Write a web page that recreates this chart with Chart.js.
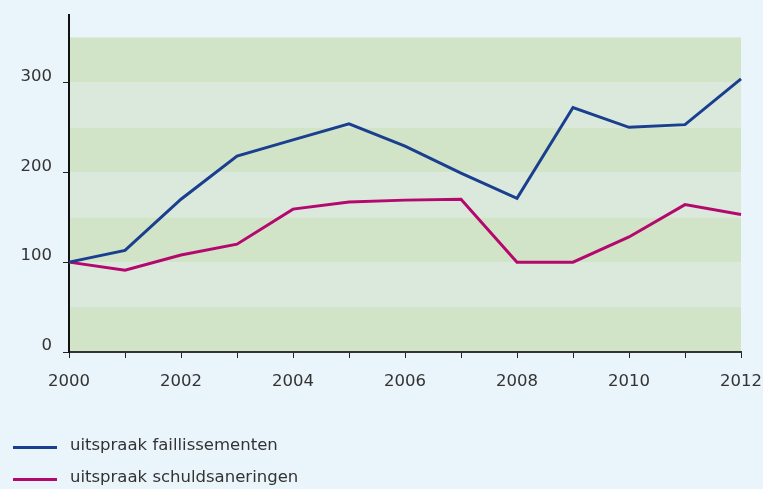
<!DOCTYPE html>
<html>
<head>
<meta charset="utf-8">
<script src="https://cdn.jsdelivr.net/npm/chart.js@4"></script>
<style>
  html, body { margin: 0; padding: 0; background: #eaf4fb; }
  #wrap { position: relative; width: 763px; height: 489px; }
  #legend { position: absolute; left: 13px; top: 431px; font-family: 'DejaVu Sans', Verdana, sans-serif; font-size: 16.5px; color: #333; }
  .item { height: 32px; display: flex; align-items: center; }
  .swatch { width: 44px; height: 3px; margin-right: 13px; }
  .item span { position: relative; top: -3px; }
</style>
</head>
<body>
<div id="wrap">
  <canvas id="chart" width="763" height="489"></canvas>
  <div id="legend"></div>
</div>
<script>
const jaren = ['2000','2001','2002','2003','2004','2005','2006','2007','2008','2009','2010','2011','2012'];
const faillissementen = [100, 113, 170, 218, 236, 254, 229, 199, 171, 272, 250, 253, 304];
const schuldsaneringen = [100, 91, 108, 120, 159, 167, 169, 170, 100, 100, 128, 164, 153];
const bandGrenzen = [0, 50, 100, 150, 200, 250, 300, 350];

const fontTekst = { family: "'DejaVu Sans', Verdana, sans-serif", size: 16.5 };

// groene banden achter de lijnen, onder de assen
const bandenPlugin = {
    id: 'banden',
    beforeDraw(chart) {
        const { ctx, chartArea, scales } = chart;
        ctx.save();
        for (let i = 0; i < bandGrenzen.length - 1; i++) {
            const y1 = scales.y.getPixelForValue(bandGrenzen[i]);
            const y2 = scales.y.getPixelForValue(bandGrenzen[i + 1]);
            ctx.fillStyle = i % 2 === 0 ? '#d2e4c8' : '#dae9dc';
            ctx.fillRect(chartArea.left, y2, chartArea.right - chartArea.left, y1 - y2);
        }
        ctx.restore();
    }
};

const datasets = [
    { label: 'uitspraak faillissementen', data: faillissementen, borderColor: '#1b3f8f' },
    { label: 'uitspraak schuldsaneringen', data: schuldsaneringen, borderColor: '#b4086f' }
].map(d => Object.assign(d, { borderWidth: 3, pointRadius: 0, tension: 0, fill: false }));

new Chart(document.getElementById('chart'), {
    type: 'line',
    data: { labels: jaren, datasets },
    plugins: [bandenPlugin],
    options: {
        responsive: false,
        animation: false,
        layout: { padding: { top: 15, right: 22, left: 0, bottom: 0 } },
        plugins: { legend: { display: false }, tooltip: { enabled: false } },
        scales: {
            x: {
                offset: false,
                grid: { drawOnChartArea: false, tickLength: 6, color: '#222' },
                border: { color: '#333', width: 2 },
                ticks: {
                    color: '#333', font: fontTekst, padding: 14, maxRotation: 0, autoSkip: false,
                    callback: (v, i) => i % 2 === 0 ? jaren[i] : ''
                },
                afterFit(scale) { scale.height = 137; scale.paddingLeft = 0; scale.paddingRight = 0; }
            },
            y: {
                min: 0, max: 375,
                grid: { drawOnChartArea: false, tickLength: 6, color: '#222' },
                border: { color: '#111', width: 2 },
                ticks: { stepSize: 100, includeBounds: false, color: '#333', font: fontTekst, padding: 11, labelOffset: -6 },
                afterFit(scale) { scale.width = 69; scale.paddingTop = 0; scale.paddingBottom = 0; }
            }
        }
    }
});

const legend = document.getElementById('legend');
datasets.forEach(d => {
    const item = document.createElement('div');
    item.className = 'item';
    item.innerHTML = '<div class="swatch" style="background:' + d.borderColor + '"></div><span>' + d.label + '</span>';
    legend.appendChild(item);
});
</script>
</body>
</html>
